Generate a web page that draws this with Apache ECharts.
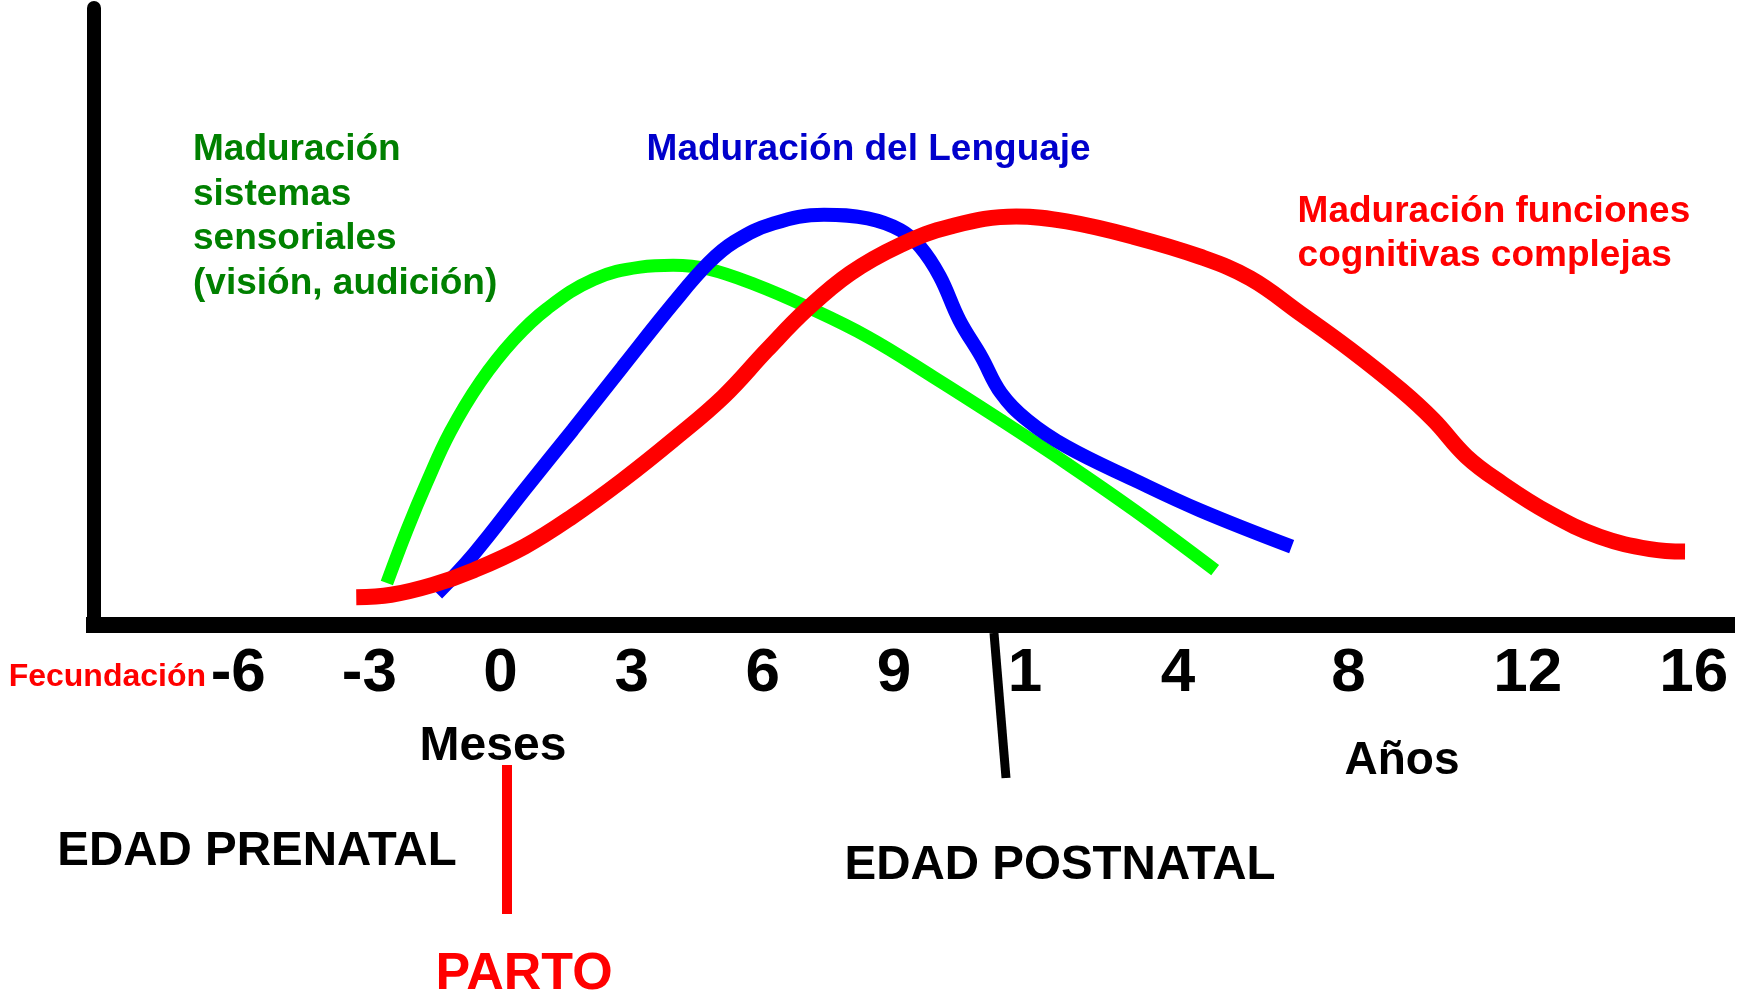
<!DOCTYPE html>
<html>
<head>
<meta charset="utf-8">
<title>Maduración</title>
<script src="https://cdn.jsdelivr.net/npm/echarts@6/dist/echarts.min.js"></script>
<style>
  html, body { margin: 0; padding: 0; background: #fff; }
  #chart { width: 1742px; height: 994px; }
</style>
</head>
<body>
<div id="chart"></div>
<script>
// eje x: meses (-6..9) y luego años (1..16), posiciones en unidades del eje
const tickPos = [-6, -3, 0, 3, 6, 9, 12, 15.5, 19.4, 23.5, 27.3]
const tickText = ['-6', '-3', '0', '3', '6', '9', '1', '4', '8', '12', '16']

// Maduración sistemas sensoriales (verde)
const sensorialX = [-2.6, -2.14, -1.68, -1.15, -0.46, 0.3, 1.07, 2.13, 3.2, 3.95, 4.75, 5.85, 7.0, 8.4, 9.9, 11.45, 12.95, 14.5, 16.35]
const sensorialY = [6.8, 15.4, 23.2, 31.3, 39.4, 46.2, 51.3, 56.0, 58.0, 58.3, 57.7, 55.1, 51.6, 46.7, 40.2, 33.2, 26.2, 18.6, 8.9]

// Maduración del lenguaje (azul)
const lenguajeX = [-1.45, -0.6, 0.55, 1.65, 2.8, 3.95, 4.75, 5.35, 6.25, 7.4, 8.4, 9.15, 9.6, 10.05, 10.5, 11.0, 11.45, 12.05, 12.95, 14.5, 16.0, 18.1]
const lenguajeY = [5.1, 11.6, 21.9, 31.6, 41.9, 52.1, 58.6, 62.1, 65.1, 66.5, 65.9, 64.0, 61.3, 56.5, 49.4, 43.5, 37.6, 33.2, 28.9, 23.5, 18.6, 12.7]

// Maduración funciones cognitivas complejas (rojo)
const cognitivasX = [-3.3, -2.5, -1.55, -0.6, 0.55, 1.65, 2.8, 3.95, 5.1, 6.1, 7.0, 8.0, 9.15, 10.3, 11.8, 12.95, 14.5, 16.0, 17.15, 18.3, 19.45, 20.6, 21.35, 22.1, 22.9, 24.0, 25.15, 26.3, 27.1]
const cognitivasY = [4.5, 4.9, 6.5, 8.9, 12.7, 17.6, 23.5, 30.0, 37.0, 44.6, 51.1, 57.0, 61.6, 64.6, 66.2, 65.4, 62.9, 59.7, 56.2, 50.5, 44.6, 38.1, 33.2, 27.3, 23.0, 18.1, 14.3, 12.3, 11.9]

const FONT = "'Liberation Sans', Arial, sans-serif"

const toPairs = (xs, ys) => xs.map((x, i) => [x, ys[i]])

const chart = echarts.init(document.getElementById('chart'))

// texto libre
const label = (text, x, y, size, color, align, vAlign, lineHeight) => ({
  type: 'text',
  silent: true,
  style: {
    text: text,
    x: x,
    y: y,
    fill: color,
    font: 'bold ' + size + 'px ' + FONT,
    align: align,
    verticalAlign: vAlign,
    textAlign: align,
    textVerticalAlign: vAlign,
    lineHeight: lineHeight || size,
  },
})

const lineSeries = (name, xs, ys, color, width) => ({
  name: name,
  type: 'line',
  data: toPairs(xs, ys),
  smooth: 0.4,
  showSymbol: false,
  symbol: 'none',
  lineStyle: { color: color, width: width, cap: 'butt' },
  emphasis: { disabled: true },
})

const options = {
  animation: false,
  backgroundColor: '#ffffff',
  grid: { left: 94, right: 15, top: 8, bottom: 369 },
  xAxis: {
    type: 'value',
    min: -9.3,
    max: 28.06,
    axisLine: { onZero: false, lineStyle: { color: '#000', width: 16, cap: 'square' } },
    axisTick: { show: false },
    splitLine: { show: false },
    axisLabel: {
      customValues: tickPos,
      margin: 18,
      color: '#000',
      fontSize: 62,
      fontWeight: 'bold',
      fontFamily: FONT,
      lineHeight: 62,
      formatter: (v) => {
        const i = tickPos.indexOf(v)
        return i >= 0 ? tickText[i] : ''
      },
    },
  },
  yAxis: {
    type: 'value',
    min: 0,
    max: 100,
    axisLine: { show: true, onZero: false, lineStyle: { color: '#000', width: 14 } },
    axisTick: { show: false },
    axisLabel: { show: false },
    splitLine: { show: false },
  },
  series: [
    lineSeries('Maduración sistemas sensoriales', sensorialX, sensorialY, '#00ff00', 13),
    lineSeries('Maduración del Lenguaje', lenguajeX, lenguajeY, '#0000ff', 14),
    lineSeries('Maduración funciones cognitivas complejas', cognitivasX, cognitivasY, '#ff0000', 16),
  ],
  graphic: [
    label('Maduración\nsistemas\nsensoriales\n(visión, audición)', 193, 128, 37, '#008000', 'left', 'top', 44.4),
    label('Maduración del Lenguaje', 646.6, 150, 37, '#0000cc', 'left', 'middle'),
    label('Maduración funciones\ncognitivas complejas', 1297.6, 189.5, 37, '#ff0000', 'left', 'top', 44),
    label('Fecundación', 206, 677, 32, '#ff0000', 'right', 'middle'),
    label('Meses', 493, 747, 48, '#000', 'center', 'middle'),
    label('Años', 1402, 761, 46, '#000', 'center', 'middle'),
    label('EDAD PRENATAL', 257, 852, 47.5, '#000', 'center', 'middle'),
    label('EDAD POSTNATAL', 1060, 866, 47.5, '#000', 'center', 'middle'),
    label('PARTO', 524, 975, 52, '#ff0000', 'center', 'middle'),
    {
      type: 'line',
      silent: true,
      shape: { x1: 507, y1: 765, x2: 507, y2: 914 },
      style: { stroke: '#ff0000', lineWidth: 10 },
    },
    {
      type: 'line',
      silent: true,
      shape: { x1: 994, y1: 633, x2: 1006, y2: 778 },
      style: { stroke: '#000', lineWidth: 9 },
    },
  ],
}

chart.setOption(options)

window.addEventListener('resize', () => chart.resize())
</script>
</body>
</html>
